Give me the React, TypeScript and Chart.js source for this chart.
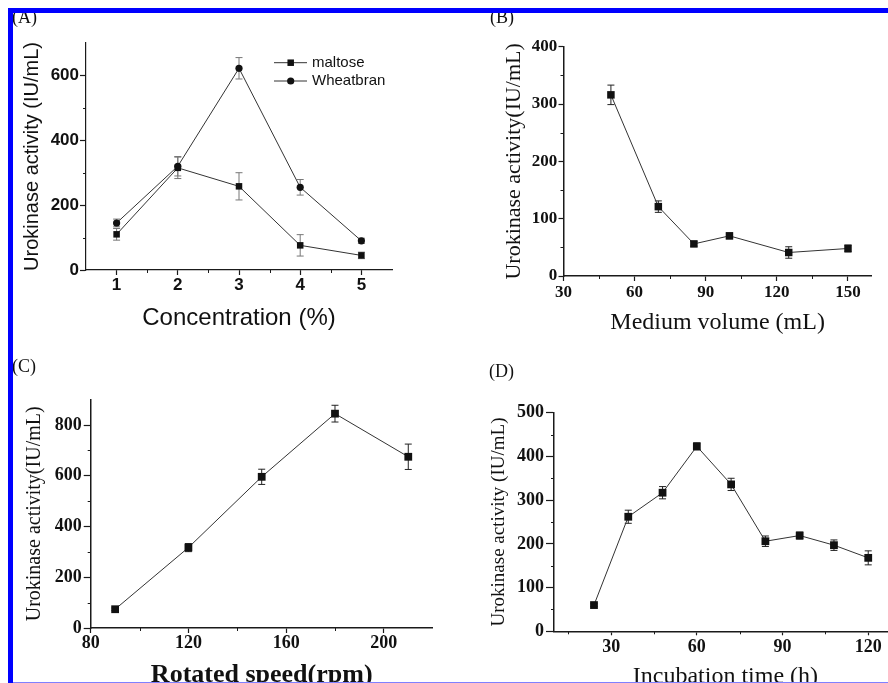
import React, { useEffect, useRef } from "react";
import { Chart, registerables } from "chart.js";

Chart.register(...registerables);

// ---------- Panel A : Concentration ----------
const concentration = [1, 2, 3, 4, 5];
const maltoseActivity = [110, 315, 258, 76, 45];
const maltoseError = [18, 33, 42, 33, 10];
const wheatbranActivity = [145, 320, 622, 255, 90];
const wheatbranError = [12, 30, 33, 24, 8];
const aXTicks = [1, 2, 3, 4, 5];
const aXMinor = [1.5, 2.5, 3.5, 4.5];
const aYTicks = [0, 200, 400, 600];
const aYMinor = [100, 300, 500];

// ---------- Panel B : Medium volume ----------
const mediumVolume = [50, 70, 85, 100, 125, 150];
const volumeActivity = [316, 121, 56, 70, 41, 48];
const volumeError = [17, 10, 4, 5, 10, 6];
const bXTicks = [30, 60, 90, 120, 150];
const bXMinor = [45, 75, 105, 135];
const bYTicks = [0, 100, 200, 300, 400];
const bYMinor = [50, 150, 250, 350];

// ---------- Panel C : Rotated speed ----------
const rotatedSpeed = [90, 120, 150, 180, 210];
const speedActivity = [74, 317, 596, 845, 675];
const speedError = [5, 16, 30, 33, 50];
const cXTicks = [80, 120, 160, 200];
const cXMinor = [100, 140, 180];
const cYTicks = [0, 200, 400, 600, 800];
const cYMinor = [100, 300, 500, 700];

// ---------- Panel D : Incubation time ----------
const incubationTime = [24, 36, 48, 60, 72, 84, 96, 108, 120];
const timeActivity = [60, 262, 317, 423, 336, 206, 219, 197, 168];
const timeError = [3, 15, 14, 8, 14, 12, 8, 12, 16];
const dXTicks = [30, 60, 90, 120];
const dXMinor = [15, 45, 75, 105];
const dYTicks = [0, 100, 200, 300, 400, 500];
const dYMinor = [50, 150, 250, 350, 450];

const SANS = '"Liberation Sans", Arial, sans-serif';
const SERIF = '"Liberation Serif", "Times New Roman", serif';

type Series = {
  label: string;
  x: number[];
  y: number[];
  err: number[];
  style: "rect" | "circle";
  radius: number;
};

type Spec = {
  left: number;
  top: number;
  width: number;
  height: number;
  area: { left: number; top: number; right: number; bottom: number };
  xMin: number;
  xMax: number;
  yMin: number;
  yMax: number;
  xTicks: number[];
  yTicks: number[];
  xMinor: number[];
  yMinor: number[];
  series: Series[];
  family: string;
  tickSize: number;
  yTl: number;
  yLabelRight: number;
  xTl: number;
  xLabelCenterY: number;
  yTitle: string;
  yTitleSize: number;
  yTitleCenterX: number;
  xTitle: string;
  xTitleSize: number;
  xTitleBold: boolean;
  xTitleCenterY: number;
  axisWidth: number;
  errColor: string;
  legend?: { lineX1: number; lineX2: number; markX: number; textX: number; ys: number[]; size: number };
};

const panels: Spec[] = [
  {
    left: 14, top: 14, width: 430, height: 328,
    area: { left: 86, top: 43, right: 392, bottom: 270 },
    xMin: 0.5, xMax: 5.5, yMin: 0, yMax: 700,
    xTicks: aXTicks, yTicks: aYTicks, xMinor: aXMinor, yMinor: aYMinor,
    series: [
      { label: "maltose", x: concentration, y: maltoseActivity, err: maltoseError, style: "rect", radius: 4.6 },
      { label: "Wheatbran", x: concentration, y: wheatbranActivity, err: wheatbranError, style: "circle", radius: 3.6 },
    ],
    family: SANS, tickSize: 17,
    yTl: 6, yLabelRight: 79, xTl: 5, xLabelCenterY: 285,
    yTitle: "Urokinase activity (IU/mL)", yTitleSize: 20, yTitleCenterX: 32,
    xTitle: "Concentration (%)", xTitleSize: 24, xTitleBold: false, xTitleCenterY: 318,
    axisWidth: 1.2, errColor: "#777",
    legend: { lineX1: 274, lineX2: 307, markX: 290.7, textX: 312, ys: [62.7, 81], size: 15 },
  },
  {
    left: 450, top: 14, width: 438, height: 328,
    area: { left: 563.5, top: 46.7, right: 871.7, bottom: 276 },
    xMin: 30, xMax: 160, yMin: 0, yMax: 400,
    xTicks: bXTicks, yTicks: bYTicks, xMinor: bXMinor, yMinor: bYMinor,
    series: [
      { label: "volume", x: mediumVolume, y: volumeActivity, err: volumeError, style: "rect", radius: 5.3 },
    ],
    family: SERIF, tickSize: 17,
    yTl: 5, yLabelRight: 557.3, xTl: 5, xLabelCenterY: 292.7,
    yTitle: "Urokinase activity(IU/mL)", yTitleSize: 22, yTitleCenterX: 514,
    xTitle: "Medium volume (mL)", xTitleSize: 24, xTitleBold: false, xTitleCenterY: 323,
    axisWidth: 1.5, errColor: "#222",
  },
  {
    left: 14, top: 350, width: 430, height: 350,
    area: { left: 90.7, top: 399.7, right: 432.7, bottom: 628 },
    xMin: 80, xMax: 220, yMin: 0, yMax: 900,
    xTicks: cXTicks, yTicks: cYTicks, xMinor: cXMinor, yMinor: cYMinor,
    series: [
      { label: "speed", x: rotatedSpeed, y: speedActivity, err: speedError, style: "rect", radius: 5.5 },
    ],
    family: SERIF, tickSize: 18,
    yTl: 7, yLabelRight: 81.7, xTl: 5, xLabelCenterY: 643.7,
    yTitle: "Urokinase activity(IU/mL)", yTitleSize: 20, yTitleCenterX: 35,
    xTitle: "Rotated speed(rpm)", xTitleSize: 26, xTitleBold: true, xTitleCenterY: 675,
    axisWidth: 1.5, errColor: "#222",
  },
  {
    left: 450, top: 350, width: 460, height: 350,
    area: { left: 554, top: 412.7, right: 896.8, bottom: 631.3 },
    xMin: 10, xMax: 130, yMin: 0, yMax: 500,
    xTicks: dXTicks, yTicks: dYTicks, xMinor: dXMinor, yMinor: dYMinor,
    series: [
      { label: "time", x: incubationTime, y: timeActivity, err: timeError, style: "rect", radius: 5.5 },
    ],
    family: SERIF, tickSize: 18,
    yTl: 8, yLabelRight: 544, xTl: 4, xLabelCenterY: 647,
    yTitle: "Urokinase activity (IU/mL)", yTitleSize: 19, yTitleCenterX: 499,
    xTitle: "Incubation time (h)", xTitleSize: 24, xTitleBold: false, xTitleCenterY: 677,
    axisWidth: 1.5, errColor: "#222",
  },
];

function buildConfig(s: Spec): any {
  const yW = s.area.left - s.left;
  const padTop = s.area.top - s.top;
  const padRight = s.left + s.width - s.area.right;
  const xH = s.top + s.height - s.area.bottom;
  const axisColor = "#1a1a1a";
  const tickFont = { family: s.family, size: s.tickSize, weight: "bold", lineHeight: 1 };
  const yTickPad = s.area.left - s.yTl - s.yLabelRight;
  const xTickPad = s.xLabelCenterY - s.area.bottom - s.xTl - s.tickSize / 2;
  const yTitlePad = s.yTitleCenterX - s.left - s.yTitleSize / 2;
  const xTitlePad = s.top + s.height - s.xTitleCenterY - s.xTitleSize / 2;

  const errorPlugin = {
    id: "errorBars",
    beforeDatasetsDraw(chart: any) {
      const { ctx } = chart;
      const xs = chart.scales.x;
      const ys = chart.scales.y;
      ctx.save();
      ctx.strokeStyle = s.errColor;
      ctx.lineWidth = 1;
      chart.data.datasets.forEach((ds: any) => {
        const e: number[] = ds.errors || [];
        ds.data.forEach((p: any, i: number) => {
          const err = e[i] || 0;
          const x = xs.getPixelForValue(p.x);
          const y1 = ys.getPixelForValue(p.y + err);
          const y2 = ys.getPixelForValue(p.y - err);
          const cap = 3.5;
          ctx.beginPath();
          ctx.moveTo(x, y1);
          ctx.lineTo(x, y2);
          ctx.moveTo(x - cap, y1);
          ctx.lineTo(x + cap, y1);
          ctx.moveTo(x - cap, y2);
          ctx.lineTo(x + cap, y2);
          ctx.stroke();
        });
      });
      ctx.restore();
    },
  };

  const minorPlugin = {
    id: "minorTicks",
    afterDraw(chart: any) {
      const { ctx, chartArea } = chart;
      ctx.save();
      ctx.strokeStyle = axisColor;
      ctx.lineWidth = 1;
      s.xMinor.forEach((v) => {
        const px = Math.round(chart.scales.x.getPixelForValue(v)) + 0.5;
        ctx.beginPath();
        ctx.moveTo(px, chartArea.bottom);
        ctx.lineTo(px, chartArea.bottom + 3);
        ctx.stroke();
      });
      s.yMinor.forEach((v) => {
        const py = Math.round(chart.scales.y.getPixelForValue(v)) + 0.5;
        ctx.beginPath();
        ctx.moveTo(chartArea.left, py);
        ctx.lineTo(chartArea.left - 3, py);
        ctx.stroke();
      });
      ctx.restore();
    },
  };

  const legendPlugin = {
    id: "lineLegend",
    afterDraw(chart: any) {
      const L = s.legend;
      if (!L) return;
      const { ctx } = chart;
      ctx.save();
      s.series.forEach((se, i) => {
        const y = L.ys[i] - s.top;
        ctx.strokeStyle = "#333";
        ctx.lineWidth = 1;
        ctx.beginPath();
        ctx.moveTo(L.lineX1 - s.left, y);
        ctx.lineTo(L.lineX2 - s.left, y);
        ctx.stroke();
        ctx.fillStyle = "#111";
        const mx = L.markX - s.left;
        if (se.style === "rect") {
          const h = se.radius * Math.SQRT1_2;
          ctx.fillRect(mx - h, y - h, 2 * h, 2 * h);
        } else {
          ctx.beginPath();
          ctx.arc(mx, y, se.radius, 0, Math.PI * 2);
          ctx.fill();
        }
        ctx.font = `${L.size}px ${s.family}`;
        ctx.textBaseline = "middle";
        ctx.textAlign = "left";
        ctx.fillText(se.label, L.textX - s.left, y);
      });
      ctx.restore();
    },
  };

  return {
    type: "line",
    data: {
      datasets: s.series.map((se) => ({
        label: se.label,
        data: se.x.map((x, i) => ({ x, y: se.y[i] })),
        errors: se.err,
        borderColor: "#333",
        borderWidth: 1,
        pointStyle: se.style,
        pointRadius: se.radius,
        pointBackgroundColor: "#111",
        pointBorderColor: "#111",
        pointBorderWidth: 0,
        tension: 0,
        fill: false,
        clip: false,
      })),
    },
    options: {
      responsive: false,
      animation: false,
      devicePixelRatio: 1,
      events: [],
      layout: { padding: { left: 0, top: padTop, right: padRight, bottom: 0 }, autoPadding: false },
      plugins: { legend: { display: false }, tooltip: { enabled: false }, title: { display: false } },
      scales: {
        x: {
          type: "linear",
          position: "bottom",
          min: s.xMin,
          max: s.xMax,
          afterBuildTicks: (ax: any) => {
            ax.ticks = s.xTicks.map((v) => ({ value: v }));
          },
          afterFit: (ax: any) => {
            ax.height = xH;
          },
          grid: {
            display: true,
            drawOnChartArea: false,
            drawTicks: true,
            tickLength: s.xTl,
            tickWidth: 1.2,
            tickColor: axisColor,
            color: axisColor,
          },
          border: { display: true, color: axisColor, width: s.axisWidth },
          ticks: {
            padding: xTickPad,
            font: tickFont,
            color: "#111",
            maxRotation: 0,
            minRotation: 0,
            autoSkip: false,
            callback: (v: any) => String(v),
          },
          title: {
            display: true,
            text: s.xTitle,
            color: "#111",
            font: { family: s.family, size: s.xTitleSize, weight: s.xTitleBold ? "bold" : "normal", lineHeight: 1 },
            padding: { top: 0, bottom: xTitlePad },
          },
        },
        y: {
          type: "linear",
          position: "left",
          min: s.yMin,
          max: s.yMax,
          afterBuildTicks: (ax: any) => {
            ax.ticks = s.yTicks.map((v) => ({ value: v }));
          },
          afterFit: (ax: any) => {
            ax.width = yW;
          },
          grid: {
            display: true,
            drawOnChartArea: false,
            drawTicks: true,
            tickLength: s.yTl,
            tickWidth: 1.2,
            tickColor: axisColor,
            color: axisColor,
          },
          border: { display: true, color: axisColor, width: s.axisWidth },
          ticks: {
            padding: yTickPad,
            font: tickFont,
            color: "#111",
            autoSkip: false,
            callback: (v: any) => String(v),
          },
          title: {
            display: true,
            text: s.yTitle,
            color: "#111",
            font: { family: s.family, size: s.yTitleSize, weight: "normal", lineHeight: 1 },
            padding: { top: yTitlePad, bottom: 0 },
          },
        },
      },
    },
    plugins: [errorPlugin, minorPlugin, legendPlugin],
  };
}

function PanelChart({ spec }: { spec: Spec }) {
  const ref = useRef<HTMLCanvasElement>(null);
  useEffect(() => {
    if (!ref.current) return;
    const chart = new Chart(ref.current, buildConfig(spec));
    return () => chart.destroy();
  }, [spec]);
  return (
    <canvas
      ref={ref}
      width={spec.width}
      height={spec.height}
      style={{ position: "absolute", left: spec.left, top: spec.top, width: spec.width, height: spec.height }}
    />
  );
}

const panelLabels = [
  { text: "(A)", left: 12, top: 8, size: 18 },
  { text: "(B)", left: 490, top: 8, size: 18 },
  { text: "(C)", left: 12, top: 357, size: 18 },
  { text: "(D)", left: 489, top: 362, size: 18 },
];

export default function App() {
  return (
    <div
      style={{
        position: "fixed",
        left: 0,
        top: 0,
        width: 888,
        height: 683,
        overflow: "hidden",
        background: "#fff",
      }}
    >
      {panels.map((p, i) => (
        <PanelChart key={i} spec={p} />
      ))}
      {panelLabels.map((l) => (
        <div
          key={l.text}
          style={{
            position: "absolute",
            left: l.left,
            top: l.top,
            fontFamily: SERIF,
            fontSize: l.size,
            lineHeight: `${l.size}px`,
            color: "#111",
          }}
        >
          {l.text}
        </div>
      ))}
      <div style={{ position: "absolute", left: 8, top: 8, width: 880, height: 5, background: "#0000ff" }} />
      <div style={{ position: "absolute", left: 8, top: 8, width: 5, height: 675, background: "#0000ff" }} />
      <div style={{ position: "absolute", left: 13, top: 682, width: 875, height: 1, background: "#8080ff" }} />
    </div>
  );
}
